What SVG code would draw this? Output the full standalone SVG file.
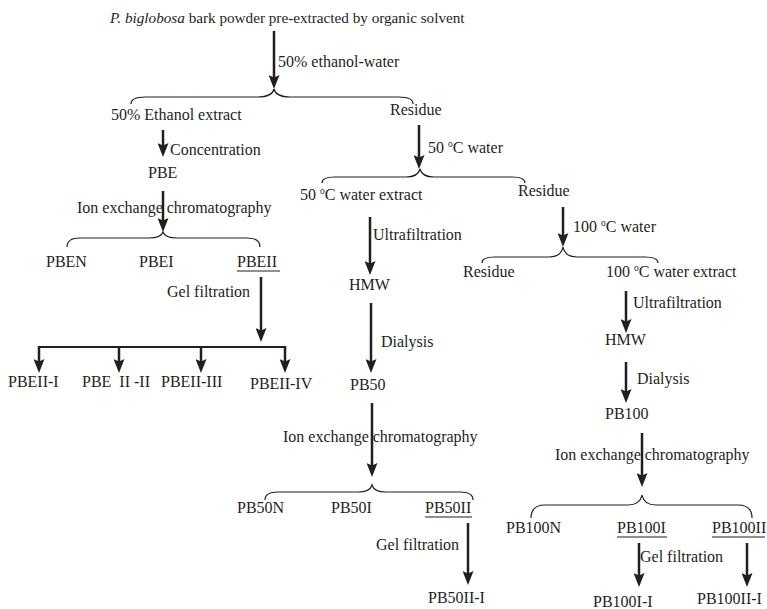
<svg xmlns="http://www.w3.org/2000/svg" width="767" height="609" viewBox="0 0 767 609">
  <style>
    text { font-family: "Liberation Serif", "Times New Roman", serif; font-size: 16px; fill: #231f20; white-space: pre; }
    .title { font-size: 15.2px; }
    .arrow { stroke: #231f20; stroke-width: 2.5; fill: none; marker-end: url(#head); }
    .bar { stroke: #231f20; stroke-width: 2; fill: none; }
    .brace { stroke: #231f20; stroke-width: 1.2; fill: none; }
    .ul { stroke: #231f20; stroke-width: 1.2; }
  </style>
  <defs>
    <marker id="head" viewBox="0 0 14 11" refX="4" refY="5.5" markerWidth="14" markerHeight="11" markerUnits="userSpaceOnUse" orient="auto">
      <path d="M0,0 L14,5.5 L0,11 L2.5,5.5 z" fill="#231f20"/>
    </marker>
  </defs>

  <!-- connectors: process arrows, split braces, fan-out bar -->
  <g id="connectors">
    <line class="arrow" x1="274" y1="31" x2="274" y2="79"/>
    <path class="brace" d="M131,104 Q131,97 145,97 L258,97 Q272,97 274,89 Q276,97 290,97 L399,97 Q413,97 413,104"/>

    <line class="arrow" x1="163" y1="130" x2="163" y2="147"/>
    <line class="arrow" x1="163" y1="191" x2="163" y2="222"/>
    <path class="brace" d="M67,247 Q67,238 80,238 L149,238 Q161,238 163,232 Q165,238 177,238 L247,238 Q260,238 260,247"/>

    <line class="arrow" x1="261" y1="277" x2="261" y2="332"/>
    <line class="bar" x1="39" y1="347" x2="285" y2="347"/>
    <line class="arrow" x1="39" y1="346" x2="39" y2="363"/>
    <line class="arrow" x1="119" y1="346" x2="119" y2="363"/>
    <line class="arrow" x1="201" y1="346" x2="201" y2="363"/>
    <line class="arrow" x1="285" y1="346" x2="285" y2="363"/>

    <line class="arrow" x1="419" y1="125" x2="419" y2="159"/>
    <path class="brace" d="M322,183 Q322,177 335,177 L406,177 Q418,177 420,169 Q422,177 434,177 L512,177 Q525,177 525,183"/>

    <line class="arrow" x1="370" y1="217" x2="370" y2="265"/>
    <line class="arrow" x1="371" y1="303" x2="371" y2="363"/>
    <line class="arrow" x1="372" y1="403" x2="372" y2="467"/>
    <path class="brace" d="M265,500 Q265,492 278,492 L358,492 Q370,492 372,485 Q374,492 386,492 L460,492 Q473,492 473,500"/>
    <line class="arrow" x1="468" y1="523" x2="468" y2="575"/>

    <line class="arrow" x1="563" y1="207" x2="563" y2="237"/>
    <path class="brace" d="M482,263 Q482,257 495,257 L549,257 Q561,257 563,247 Q565,257 577,257 L645,257 Q658,257 658,263"/>

    <line class="arrow" x1="626" y1="291" x2="626" y2="323"/>
    <line class="arrow" x1="626" y1="362" x2="626" y2="393"/>
    <line class="arrow" x1="642" y1="433" x2="642" y2="477"/>
    <path class="brace" d="M531,518 Q531,505 545,505 L628,505 Q640,505 642,495 Q644,505 656,505 L738,505 Q752,505 752,518"/>
    <line class="arrow" x1="639" y1="543" x2="639" y2="577"/>
    <line class="arrow" x1="747" y1="543" x2="747" y2="577"/>
  </g>

  <!-- step labels on the arrows -->
  <g id="step-labels">
    <text x="278" y="67">50% ethanol-water</text>
    <text x="170" y="155">Concentration</text>
    <text x="77" y="213">Ion exchange chromatography</text>
    <text x="167" y="297">Gel filtration</text>
    <text x="428" y="153">50 <tspan font-size="9.5" dy="-6.5">o</tspan><tspan dy="6.5">C water</tspan></text>
    <text x="373" y="240">Ultrafiltration</text>
    <text x="381" y="347">Dialysis</text>
    <text x="283" y="442">Ion exchange chromatography</text>
    <text x="376" y="550">Gel filtration</text>
    <text x="573" y="232">100 <tspan font-size="9.5" dy="-6.5">o</tspan><tspan dy="6.5">C water</tspan></text>
    <text x="633" y="308">Ultrafiltration</text>
    <text x="637" y="384">Dialysis</text>
    <text x="555" y="460">Ion exchange chromatography</text>
    <text x="640" y="562">Gel filtration</text>
  </g>

  <g id="start"><text class="title" x="110" y="23"><tspan font-style="italic">P. biglobosa</tspan> bark powder pre-extracted by organic solvent</text></g>

  <g id="ethanol-extract"><text x="111" y="120">50% Ethanol extract</text></g>
  <g id="residue-1"><text x="390" y="115">Residue</text></g>
  <g id="pbe"><text x="148" y="178">PBE</text></g>
  <g id="pben"><text x="46" y="267">PBEN</text></g>
  <g id="pbei"><text x="139" y="267">PBEI</text></g>
  <g id="pbeii"><text x="237" y="267">PBEII</text><line class="ul" x1="237" y1="271" x2="280" y2="271"/></g>
  <g id="pbeii-i"><text x="8" y="387">PBEII-I</text></g>
  <g id="pbeii-ii"><text x="82" y="387">PBE  II -II</text></g>
  <g id="pbeii-iii"><text x="161" y="387">PBEII-III</text></g>
  <g id="pbeii-iv"><text x="250" y="389">PBEII-IV</text></g>

  <g id="water50-extract"><text x="300" y="200">50 <tspan font-size="9.5" dy="-6.5">o</tspan><tspan dy="6.5">C water extract</tspan></text></g>
  <g id="residue-2"><text x="518" y="196">Residue</text></g>
  <g id="hmw-50"><text x="349" y="290">HMW</text></g>
  <g id="pb50"><text x="350" y="390">PB50</text></g>
  <g id="pb50n"><text x="237" y="513">PB50N</text></g>
  <g id="pb50i"><text x="331" y="513">PB50I</text></g>
  <g id="pb50ii"><text x="425" y="513">PB50II</text><line class="ul" x1="425" y1="517" x2="472" y2="517"/></g>
  <g id="pb50ii-i"><text x="428" y="603">PB50II-I</text></g>

  <g id="residue-3"><text x="463" y="277">Residue</text></g>
  <g id="water100-extract"><text x="606" y="277">100 <tspan font-size="9.5" dy="-6.5">o</tspan><tspan dy="6.5">C water extract</tspan></text></g>
  <g id="hmw-100"><text x="605" y="345">HMW</text></g>
  <g id="pb100"><text x="605" y="419">PB100</text></g>
  <g id="pb100n"><text x="506" y="533">PB100N</text></g>
  <g id="pb100i"><text x="617" y="533">PB100I</text><line class="ul" x1="617" y1="537" x2="667" y2="537"/></g>
  <g id="pb100ii"><text x="712" y="533">PB100II</text><line class="ul" x1="712" y1="537" x2="765" y2="537"/></g>
  <g id="pb100i-i"><text x="593" y="607">PB100I-I</text></g>
  <g id="pb100ii-i"><text x="697" y="604">PB100II-I</text></g>
</svg>
